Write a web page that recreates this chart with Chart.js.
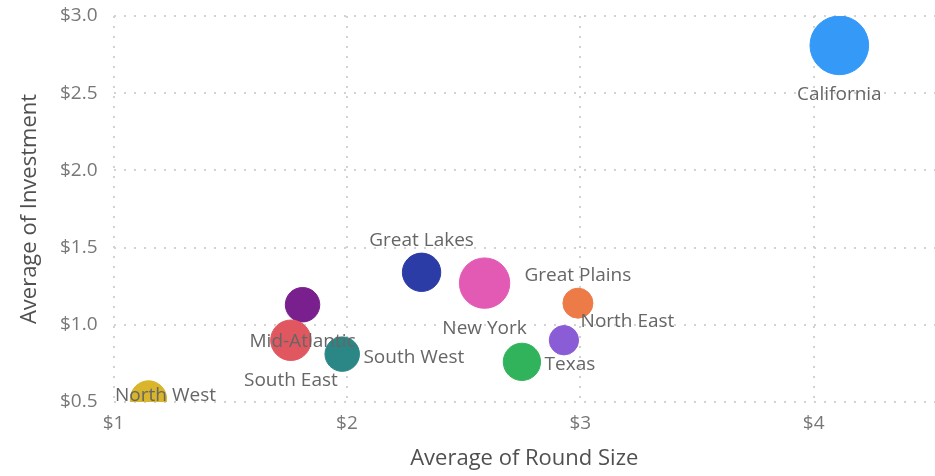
<!DOCTYPE html>
<html>
<head>
<meta charset="utf-8">
<script src="https://cdn.jsdelivr.net/npm/chart.js@4/dist/chart.umd.min.js"></script>
<style>
  html, body { margin: 0; padding: 0; background: #fff; }
  #grafico { display: block; }
</style>
</head>
<body>
<canvas id="grafico" width="935" height="476"></canvas>
<script>
// Regiones y valores
const regiones = ['California', 'Great Lakes', 'New York', 'Mid-Atlantic', 'South East',
                  'South West', 'Texas', 'North East', 'Great Plains', 'North West'];
const tamanoRonda = [4.11, 2.32, 2.59, 1.81, 1.76, 1.98, 2.75, 2.93, 2.99, 1.15];   // eje x ($M)
const inversion   = [2.81, 1.34, 1.27, 1.13, 0.90, 0.81, 0.76, 0.90, 1.14, 0.52];   // eje y ($M)
const numRondas   = [84, 36, 62, 29, 40, 29, 34, 21, 22, 32];                       // tamaño burbuja
const ticksX = [1, 2, 3, 4];
const ticksY = [0.5, 1.0, 1.5, 2.0, 2.5, 3.0];

// Estilo
const colores = ['#3599f8', '#2b3ca6', '#e35ab4', '#7a1f8e', '#e0575f',
                 '#2b8686', '#30b35a', '#8a5cd6', '#ec7b48', '#d8b52a'];
const posEtiqueta = ['below', 'above', 'below', 'below', 'below',
                     'right', 'right', 'upRight', 'above', 'inside'];
const fuente = '"Open Sans", "Noto Sans", sans-serif';

const datos = regiones.map((r, i) => ({
    x: tamanoRonda[i],
    y: inversion[i],
    r: Math.sqrt(numRondas[i]) * 3.2
}));

// Etiquetas de las burbujas
const etiquetas = {
    id: 'etiquetas',
    afterDatasetsDraw(chart) {
        const ctx = chart.ctx;
        const meta = chart.getDatasetMeta(0);
        ctx.save();
        ctx.font = '19px ' + fuente;
        ctx.fillStyle = '#666666';
        ctx.textBaseline = 'middle';
        meta.data.forEach((pt, i) => {
            const r = datos[i].r;
            let x = pt.x, y = pt.y;
            ctx.textAlign = 'center';
            switch (posEtiqueta[i]) {
                case 'below': y = pt.y + r + 20; break;
                case 'above': y = pt.y - r - 13; break;
                case 'right': ctx.textAlign = 'left'; x = pt.x + r + 4; y = pt.y + 3; break;
                case 'upRight': ctx.textAlign = 'left'; x = pt.x + r + 2; y = pt.y - 19; break;
                case 'inside': x = pt.x + 17; y = pt.y - 3; break;
            }
            ctx.fillText(regiones[i], x, y);
        });
        ctx.restore();
    }
};

// sin relleno extra de las escalas, el área queda fija
const sinPadding = s => {
    s.paddingLeft = 0; s.paddingRight = 0;
    s.paddingTop = 0; s.paddingBottom = 0;
};

new Chart(document.getElementById('grafico'), {
    type: 'bubble',
    data: {
        datasets: [{
            label: 'Regiones',
            data: datos,
            backgroundColor: colores,
            borderColor: colores,
            borderWidth: 1,
            clip: 0
        }]
    },
    options: {
        responsive: false,
        animation: false,
        events: [],
        layout: { autoPadding: false, padding: { top: 16, right: 0, left: 0, bottom: 0 } },
        plugins: {
            legend: { display: false },
            tooltip: { enabled: false }
        },
        scales: {
            x: {
                type: 'linear',
                min: 1,
                max: 4.52,
                afterBuildTicks: s => { s.ticks = ticksX.map(v => ({ value: v })); },
                afterFit: s => { s.height = 74; sinPadding(s); },
                grid: { color: '#d2d2d2', lineWidth: 2, drawTicks: false },
                border: { display: false, dash: [2, 8] },
                ticks: {
                    padding: 10,
                    color: '#777777',
                    font: { family: fuente, size: 19 },
                    callback: v => '$' + v
                },
                title: {
                    display: true,
                    text: 'Average of Round Size',
                    color: '#505050',
                    font: { family: fuente, size: 22 },
                    padding: { top: 0, bottom: 4 }
                }
            },
            y: {
                type: 'linear',
                min: 0.5,
                max: 3.0,
                afterBuildTicks: s => { s.ticks = ticksY.map(v => ({ value: v })); },
                afterFit: s => { s.width = 113.5; sinPadding(s); },
                grid: { color: '#d2d2d2', lineWidth: 2, drawTicks: false },
                border: { display: false, dash: [2, 8] },
                ticks: {
                    padding: 16,
                    color: '#777777',
                    font: { family: fuente, size: 19 },
                    callback: v => '$' + v.toFixed(1)
                },
                title: {
                    display: true,
                    text: 'Average of Investment',
                    color: '#505050',
                    font: { family: fuente, size: 22 },
                    padding: { top: 17, bottom: 0 }
                }
            }
        }
    },
    plugins: [etiquetas]
});
</script>
</body>
</html>
